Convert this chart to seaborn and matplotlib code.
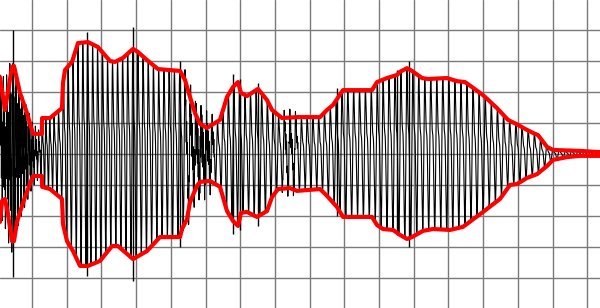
import numpy as np
import pandas as pd
import matplotlib
matplotlib.use("Agg")
import matplotlib.pyplot as plt
import seaborn as sns

# ---- data (time in px-units, amplitude in grid units) ----
env_time = [0, 5, 12, 14, 20, 27, 33, 42, 42.1, 50, 62, 63, 65, 72, 78, 88, 98, 110, 115,
            123, 133, 138, 147, 158, 180, 185, 190, 195, 200, 207, 220, 227, 233, 238, 241,
            247, 258, 267, 272, 282, 297, 320, 327, 333, 343, 372, 377, 387, 397, 400, 407,
            412, 422, 428, 447, 457, 465, 472, 483, 497, 508, 518, 525, 533, 538, 547, 553,
            580, 600]
env_upper = [2.48, 1.42, 2.81, 2.84, 1.97, 1.32, 0.65, 0.65, 1.16, 1.16, 1.48, 2.29, 2.71,
             2.97, 3.58, 3.61, 3.45, 3.00, 2.97, 3.10, 3.39, 3.29, 3.03, 2.74, 2.68, 2.39,
             1.84, 1.32, 0.97, 0.84, 1.10, 1.84, 2.16, 2.32, 1.97, 1.87, 2.10, 1.74, 1.42,
             1.16, 1.19, 1.19, 1.42, 1.58, 2.06, 2.06, 2.32, 2.45, 2.55, 2.65, 2.77, 2.68,
             2.45, 2.42, 2.45, 2.35, 2.32, 2.16, 1.90, 1.48, 1.10, 0.94, 0.81, 0.68, 0.61,
             0.23, 0.13, 0.10, 0.06]

low_time = [0, 2, 5, 8, 12, 14, 17, 20, 25, 33, 42, 42.1, 50, 62, 63, 67, 73, 80, 88, 100,
            112, 118, 133, 147, 160, 180, 182, 187, 190, 197, 200, 210, 220, 227, 233, 238,
            241, 247, 257, 267, 272, 278, 290, 297, 320, 327, 337, 343, 372, 377, 383, 393,
            400, 407, 412, 423, 433, 450, 463, 483, 500, 510, 517, 527, 537, 547, 553, 567,
            580, 600]
env_lower = [-2.19, -1.52, -1.45, -1.94, -2.81, -2.81, -2.19, -1.87, -1.39, -0.71, -0.71,
             -1.06, -1.13, -1.45, -2.26, -2.81, -3.13, -3.61, -3.61, -3.45, -2.97, -2.97,
             -3.39, -3.13, -2.68, -2.68, -2.42, -2.10, -1.55, -1.03, -0.90, -0.87, -1.06,
             -1.84, -2.16, -2.32, -1.90, -1.87, -2.03, -1.84, -1.39, -1.13, -1.10, -1.19,
             -1.13, -1.35, -1.71, -2.03, -2.03, -2.29, -2.42, -2.45, -2.61, -2.74, -2.68,
             -2.48, -2.42, -2.45, -2.35, -1.87, -1.45, -1.00, -0.97, -0.77, -0.65, -0.39,
             -0.19, -0.10, -0.06, -0.06]

pitch_time = [0, 40, 60, 200, 320, 540, 600]
pitch_period = [3.0, 3.4, 4.8, 5.4, 5.8, 6.2, 6.2]

voice_time = [0, 30, 40, 600]
voice_gain = [0.7, 0.75, 1.0, 1.0]

noise_time = [0, 3, 10, 20, 30, 38, 42, 180, 186, 193, 203, 212, 216, 280, 285, 295, 300]
noise_amp = [1.1, 1.25, 1.5, 1.2, 0.6, 0.2, 0.0, 0.0, 0.4, 0.6, 0.65, 0.4, 0.0, 0.0, 0.3, 0.3, 0.0]

spike_time = [13, 87, 133, 180, 233, 240, 258, 337, 397, 409]
spike_top = [4.0, 3.94, 4.10, 3.0, 2.58, 2.42, 2.29, 2.13, 2.71, 3.0]
spike_bottom = [-3.97, -3.94, -4.10, -3.0, -2.58, -2.45, -2.32, -2.0, -2.6, -3.0]

# ---- build waveform from the envelope and carrier parameters ----
t = np.linspace(0, 600, 36000)
dt = t[1] - t[0]
period = np.interp(t, pitch_time, pitch_period)
phase = 2 * np.pi * np.cumsum(dt / period)
c = 0.7 * np.sin(phase) + 0.3 * np.sin(2 * phase + 0.6)
c = np.where(c >= 0, c / c.max(), c / -c.min())
up = np.interp(t, env_time, env_upper)
lo = np.interp(t, low_time, env_lower)
gain = np.interp(t, voice_time, voice_gain)
wave = np.where(c >= 0, c * up, -c * lo) * gain
wave = wave + np.interp(t, noise_time, noise_amp) * np.sin(2 * np.pi * t / 0.8)

wave_df = pd.DataFrame({"t": t, "v": wave})
up_df = pd.DataFrame({"t": env_time, "v": env_upper})
lo_df = pd.DataFrame({"t": low_time, "v": env_lower})

sns.set_style("white")
fig = plt.figure(figsize=(6, 3.08), dpi=100)
ax = fig.add_axes([0, 0, 1, 1])

sns.lineplot(data=wave_df, x="t", y="v", ax=ax, color="black", lw=0.8,
             estimator=None, sort=False, zorder=2)
ax.vlines(spike_time, spike_bottom, spike_top, color="black", lw=1.0, zorder=2)
for df in (up_df, lo_df):
    sns.lineplot(data=df, x="t", y="v", ax=ax, color="#ff0000", lw=3.0,
                 estimator=None, sort=False, zorder=3, solid_joinstyle="round")

ax.set_xlim(0, 600)
ax.set_ylim(-154 / 31, 154 / 31)
ax.set_xticks(np.arange(32, 600, 34.7))
ax.set_yticks(np.arange(-4, 5))
ax.grid(True, color="#7a7a7a", lw=1.0, zorder=0)
ax.set_axisbelow(True)
ax.tick_params(length=0, labelbottom=False, labelleft=False)
ax.set_xlabel("")
ax.set_ylabel("")
for s in ax.spines.values():
    s.set_visible(False)

fig.savefig("out.png", dpi=100)
